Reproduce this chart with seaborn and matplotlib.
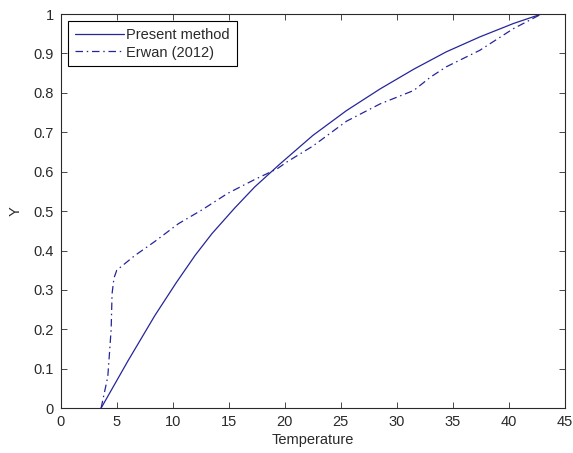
import numpy as np
import pandas as pd
import matplotlib
matplotlib.use("Agg")
import matplotlib.pyplot as plt
import seaborn as sns

# DATA
present_x = [3.6, 6.0, 8.4, 10.3, 12.0, 13.5, 15.5, 17.3, 19.5, 22.5, 25.5,
             28.5, 31.5, 34.4, 37.4, 40.4, 42.9]
present_y = [0.0, 0.12, 0.235, 0.318, 0.388, 0.443, 0.507, 0.561, 0.618, 0.692, 0.755,
             0.81, 0.86, 0.904, 0.942, 0.976, 1.0]

erwan_x = [3.6, 4.2, 4.5, 4.58, 4.75, 5.0, 6.6, 8.4, 10.5, 12.6, 14.9, 17.3, 19.3,
           20.2, 22.5, 25.5, 28.5, 31.5, 33.0, 34.4, 37.4, 40.4, 42.9]
erwan_y = [0.0, 0.08, 0.2, 0.29, 0.33, 0.35, 0.387, 0.423, 0.468, 0.503, 0.545, 0.58, 0.607,
           0.625, 0.665, 0.728, 0.772, 0.806, 0.84, 0.866, 0.908, 0.963, 1.0]

x_ticks = list(range(0, 46, 5))
y_ticks = [0, 0.1, 0.2, 0.3, 0.4, 0.5, 0.6, 0.7, 0.8, 0.9, 1]
y_tick_labels = ["0", "0.1", "0.2", "0.3", "0.4", "0.5", "0.6", "0.7", "0.8", "0.9", "1"]

df = pd.concat([
    pd.DataFrame({"Temperature": present_x, "Y": present_y, "series": "Present method"}),
    pd.DataFrame({"Temperature": erwan_x, "Y": erwan_y, "series": "Erwan (2012)"}),
])

sns.set_style("ticks")
plt.rcParams["font.family"] = ["Liberation Sans", "DejaVu Sans"]
plt.rcParams["font.size"] = 10.5

fig = plt.figure(figsize=(5.73, 4.53), dpi=100)
ax = fig.add_axes([0.106, 0.099, 0.880, 0.870])

line_color = "#25259a"
text_color = "#2a2a2a"

sns.lineplot(
    data=df,
    x="Temperature",
    y="Y",
    hue="series",
    style="series",
    palette=[line_color, line_color],
    dashes={"Present method": "", "Erwan (2012)": (6, 3, 1.2, 3)},
    sort=False,
    estimator=None,
    linewidth=0.9,
    ax=ax
)

ax.set_xlim(0, 45)
ax.set_ylim(0, 1)
ax.set_xticks(x_ticks)
ax.set_yticks(y_ticks)
ax.set_yticklabels(y_tick_labels)

ax.tick_params(direction="in", top=True, right=True, length=4, width=0.6,
               labelsize=10.5, colors=text_color, pad=5)
for spine in ax.spines.values():
    spine.set_visible(True)
    spine.set_linewidth(0.8)
    spine.set_color(text_color)

ax.set_xlabel("Temperature", fontsize=10.5, labelpad=3, color=text_color)
ax.set_ylabel("Y", fontsize=10.5, labelpad=8, color=text_color)

leg = ax.legend(loc="upper left", fontsize=10.5, fancybox=False, framealpha=1,
                edgecolor="black", handlelength=3.4, handletextpad=0.15,
                borderaxespad=0.5, borderpad=0.45, labelspacing=0.25)
leg.get_frame().set_linewidth(0.8)
leg.set_title(None)
for t in leg.get_texts():
    t.set_color(text_color)

fig.savefig("out.png", dpi=100)
